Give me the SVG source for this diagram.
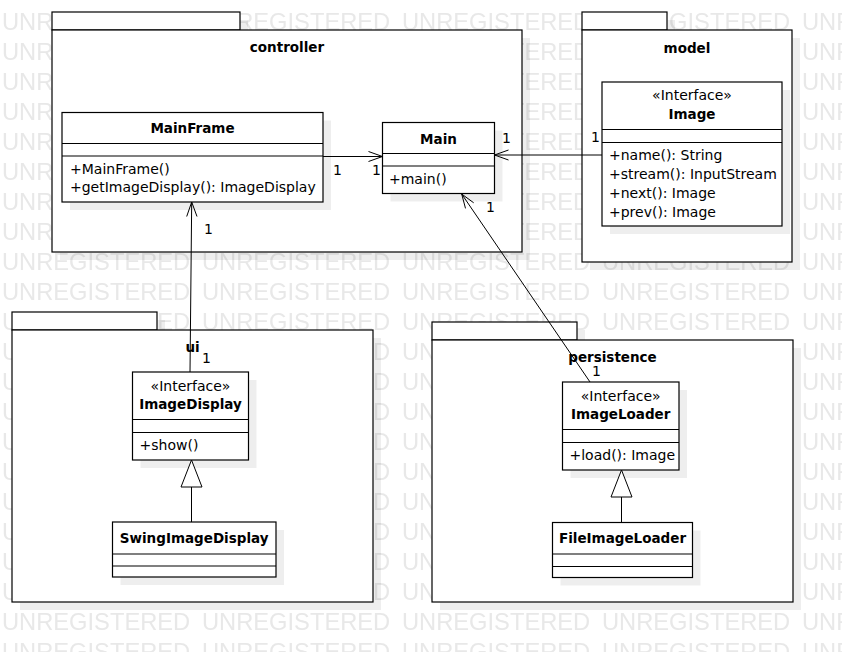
<svg xmlns="http://www.w3.org/2000/svg" width="842" height="652" viewBox="0 0 842 652">
<style>
.pkg{fill:#fff;stroke:#000;stroke-width:1.2}
.cls{fill:#fff;stroke:#000;stroke-width:1.2}
.sep{stroke:#000;stroke-width:1.2}
.sh{fill:#000;fill-opacity:0.065}
.t{font-family:"DejaVu Sans",sans-serif;font-size:14px;fill:#000}
.b{font-weight:bold;font-size:13.5px}
.c{text-anchor:middle}
.ln{stroke:#000;stroke-width:1;fill:none}
.gen{stroke:#000;stroke-width:1;fill:#fff}
.wm{font-family:"Liberation Sans",Arial,sans-serif;font-size:23.7px;fill:#e8e8e8}
</style>
<defs>
<pattern id="wmp" patternUnits="userSpaceOnUse" x="0" y="3" width="200" height="30">
<text class="wm" x="2" y="27">UNREGISTERED</text>
</pattern>
</defs>
<rect width="842" height="652" fill="#fff"/>
<rect width="842" height="652" fill="url(#wmp)"/>

<g id="pkg-controller">
<path class="sh" d="M60,20H248V38H530V260H60Z"/>
<rect class="pkg" x="52" y="12" width="188" height="18"/>
<rect class="pkg" x="52" y="30" width="470" height="222"/>
<text class="t b c" x="287" y="52">controller</text>
</g>
<g id="pkg-model">
<path class="sh" d="M590,20H675V38H800V270H590Z"/>
<rect class="pkg" x="582" y="12" width="85" height="18"/>
<rect class="pkg" x="582" y="30" width="210" height="232"/>
<text class="t b c" x="687" y="52.5">model</text>
</g>
<g id="pkg-ui">
<path class="sh" d="M20,320H165V338H381V610H20Z"/>
<rect class="pkg" x="12" y="312" width="145" height="18"/>
<rect class="pkg" x="12" y="330" width="361" height="272"/>
<text class="t b c" x="192.5" y="352">ui</text>
</g>
<g id="pkg-persistence">
<path class="sh" d="M440,330H585V348H801V610H440Z"/>
<rect class="pkg" x="432" y="322" width="145" height="18"/>
<rect class="pkg" x="432" y="340" width="361" height="262"/>
<text class="t b c" x="612.5" y="361.5">persistence</text>
</g>

<g id="MainFrame">
<rect class="sh" x="70" y="120.5" width="261" height="89.5"/>
<rect class="cls" x="62" y="112.5" width="261" height="89.5"/>
<line class="sep" x1="62" y1="143.5" x2="323" y2="143.5"/>
<line class="sep" x1="62" y1="156" x2="323" y2="156"/>
<text class="t b c" x="192.5" y="132.5">MainFrame</text>
<text class="t" x="70" y="174">+MainFrame()</text>
<text class="t" x="70" y="192">+getImageDisplay(): ImageDisplay</text>
</g>
<g id="Main">
<rect class="sh" x="390.5" y="130.5" width="112" height="71"/>
<rect class="cls" x="382.5" y="122.5" width="112" height="71"/>
<line class="sep" x1="382.5" y1="153.5" x2="494.5" y2="153.5"/>
<line class="sep" x1="382.5" y1="166" x2="494.5" y2="166"/>
<text class="t b c" x="438.5" y="143.5">Main</text>
<text class="t" x="389" y="183.5">+main()</text>
</g>
<g id="Image">
<rect class="sh" x="610" y="90" width="180" height="144"/>
<rect class="cls" x="602" y="82" width="180" height="144"/>
<line class="sep" x1="602" y1="129.5" x2="782" y2="129.5"/>
<line class="sep" x1="602" y1="142.5" x2="782" y2="142.5"/>
<text class="t c" x="692" y="100">«Interface»</text>
<text class="t b c" x="692" y="118.5">Image</text>
<text class="t" x="609" y="160">+name(): String</text>
<text class="t" x="609" y="179">+stream(): InputStream</text>
<text class="t" x="609" y="198">+next(): Image</text>
<text class="t" x="609" y="217">+prev(): Image</text>
</g>
<g id="ImageDisplay">
<rect class="sh" x="140.5" y="380" width="116" height="88"/>
<rect class="cls" x="132.5" y="372" width="116" height="88"/>
<line class="sep" x1="132.5" y1="419.5" x2="248.5" y2="419.5"/>
<line class="sep" x1="132.5" y1="432.5" x2="248.5" y2="432.5"/>
<text class="t c" x="190.5" y="391">«Interface»</text>
<text class="t b c" x="190.5" y="408.5">ImageDisplay</text>
<text class="t" x="139.5" y="450">+show()</text>
</g>
<g id="SwingImageDisplay">
<rect class="sh" x="120.5" y="530" width="163.5" height="55"/>
<rect class="cls" x="112.5" y="522" width="163.5" height="55"/>
<line class="sep" x1="112.5" y1="554" x2="276" y2="554"/>
<line class="sep" x1="112.5" y1="566" x2="276" y2="566"/>
<text class="t b c" x="194.2" y="543">SwingImageDisplay</text>
</g>
<g id="ImageLoader">
<rect class="sh" x="570.5" y="390" width="116.5" height="88"/>
<rect class="cls" x="562.5" y="382" width="116.5" height="88"/>
<line class="sep" x1="562.5" y1="429.5" x2="679" y2="429.5"/>
<line class="sep" x1="562.5" y1="442.5" x2="679" y2="442.5"/>
<text class="t c" x="620.7" y="401">«Interface»</text>
<text class="t b c" x="620.7" y="419">ImageLoader</text>
<text class="t" x="569.5" y="460">+load(): Image</text>
</g>
<g id="FileImageLoader">
<rect class="sh" x="560.5" y="530.5" width="140" height="55"/>
<rect class="cls" x="552.5" y="522.5" width="140" height="55"/>
<line class="sep" x1="552.5" y1="554" x2="692.5" y2="554"/>
<line class="sep" x1="552.5" y1="566.5" x2="692.5" y2="566.5"/>
<text class="t b c" x="622.5" y="543">FileImageLoader</text>
</g>

<g id="connectors">
<line class="ln" x1="323" y1="156.5" x2="382.5" y2="156.5"/>
<polyline class="ln" points="368.5,151.5 382.5,156.5 368.5,161.5"/>
<text class="t" x="333" y="175">1</text>
<text class="t" x="372" y="175">1</text>

<line class="ln" x1="602" y1="155" x2="494.5" y2="155"/>
<polyline class="ln" points="508.5,150 494.5,155 508.5,160"/>
<text class="t" x="502" y="143">1</text>
<text class="t" x="591" y="142">1</text>

<line class="ln" x1="190" y1="372" x2="191.7" y2="202"/>
<polyline class="ln" points="186.7,216.5 191.7,202 197,216.5"/>
<text class="t" x="204" y="234">1</text>
<text class="t" x="202" y="363">1</text>

<line class="ln" x1="590" y1="382" x2="461.7" y2="194"/>
<polyline class="ln" points="473.7,202.8 461.7,194 465.5,208.4"/>
<text class="t" x="486" y="211.5">1</text>
<text class="t" x="592" y="375.5">1</text>

<line class="ln" x1="191.5" y1="487" x2="191.5" y2="522"/>
<polygon class="gen" points="191.5,460 181,487 202,487"/>
<line class="ln" x1="621.5" y1="497" x2="621.5" y2="522.5"/>
<polygon class="gen" points="621.5,470 611,497 632,497"/>
</g>
</svg>
